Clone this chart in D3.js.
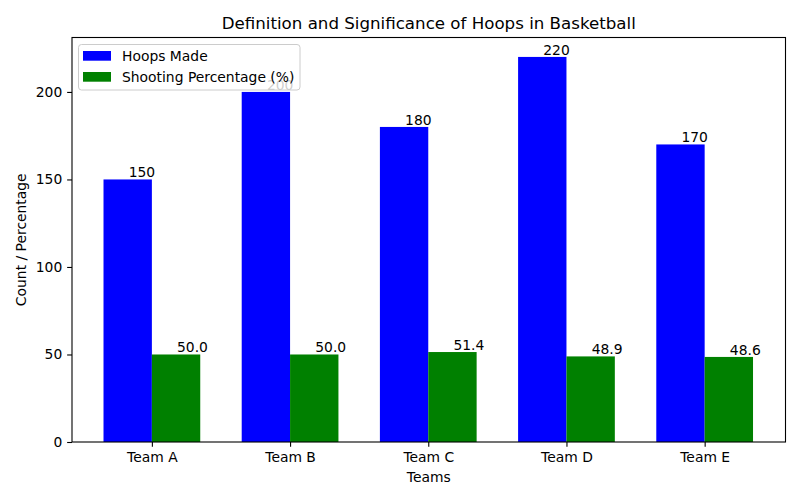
<!DOCTYPE html>
<html><head><meta charset="utf-8">
<script src="https://cdn.jsdelivr.net/npm/d3@7"></script>
<style>body{margin:0;background:#fff;} svg{display:block;font-family:"DejaVu Sans",sans-serif;}</style>
</head><body>
<svg id="c" width="800" height="500"></svg>
<script>
const teams = ["Team A","Team B","Team C","Team D","Team E"];
const hoopsMade = [150,200,180,220,170];
const shootingPct = [50.0,50.0,51.4,48.9,48.6];
const pctLabels = ["50.0","50.0","51.4","48.9","48.6"];
const yTicks = [0,50,100,150,200];
const seriesNames = ["Hoops Made","Shooting Percentage (%)"];
const colors = ["#0000ff","#008000"];

const svg = d3.select("#c");
const L=72, R=785.5, T=37.5, B=442;
const w = 0.35;
const x = d3.scaleLinear().domain([-0.578, 4.585]).range([L,R]);
const y = d3.scaleLinear().domain([0, 231.1]).range([B,T]);

svg.append("text").attr("x",(L+R)/2).attr("y",T-9).attr("text-anchor","middle")
  .attr("font-size","16.67px").text("Definition and Significance of Hoops in Basketball");

const g = svg.append("g");
teams.forEach((t,i)=>{
  g.append("rect").attr("x",x(i-w)).attr("width",x(w)-x(0)).attr("y",y(hoopsMade[i])).attr("height",y(0)-y(hoopsMade[i])).attr("fill",colors[0]);
  g.append("rect").attr("x",x(i)).attr("width",x(w)-x(0)).attr("y",y(shootingPct[i])).attr("height",y(0)-y(shootingPct[i])).attr("fill",colors[1]);
});
teams.forEach((t,i)=>{
  g.append("text").attr("x",x(i-w/2)+1).attr("y",y(hoopsMade[i])-2).attr("font-size","13.89px").text(hoopsMade[i]);
  g.append("text").attr("x",x(i+w/2)+1).attr("y",y(shootingPct[i])-2).attr("font-size","13.89px").text(pctLabels[i]);
});

// axes
const xa = svg.append("g").attr("transform",`translate(0,${B})`)
  .call(d3.axisBottom(x).tickValues(d3.range(teams.length)).tickFormat(i=>teams[i]).tickSizeOuter(0).tickSize(4.86).tickPadding(4.9));
xa.select(".domain").remove();
xa.selectAll("text").attr("font-size","13.89px").attr("font-family","DejaVu Sans").attr("fill","#000");
const ya = svg.append("g").attr("transform",`translate(${L},0)`)
  .call(d3.axisLeft(y).tickValues(yTicks).tickSizeOuter(0).tickSize(4.86).tickPadding(4.9));
ya.select(".domain").remove();
ya.selectAll("text").attr("font-size","13.89px").attr("font-family","DejaVu Sans").attr("fill","#000");
svg.selectAll(".tick line").attr("stroke","#000").attr("stroke-width",1.1);

svg.append("rect").attr("x",L).attr("y",T).attr("width",R-L).attr("height",B-T)
  .attr("fill","none").attr("stroke","#000").attr("stroke-width",1.1);

svg.append("text").attr("x",(L+R)/2).attr("y",482).attr("text-anchor","middle").attr("font-size","13.89px").text("Teams");
svg.append("text").attr("transform",`translate(21,${(T+B)/2}) rotate(-90)`).attr("text-anchor","middle")
  .attr("dy","0.35em").attr("font-size","13.89px").text("Count / Percentage");

// legend
const lg = svg.append("g");
lg.append("rect").attr("x",78.5).attr("y",44.5).attr("width",221.5).attr("height",45.5).attr("rx",3)
  .attr("fill","#fff").attr("fill-opacity",0.8).attr("stroke","#cccccc").attr("stroke-width",1);
seriesNames.forEach((s,i)=>{
  lg.append("rect").attr("x",83).attr("y",51+i*21).attr("width",28).attr("height",9.7).attr("fill",colors[i]);
  lg.append("text").attr("x",122).attr("y",56+i*21).attr("dy","0.35em").attr("font-size","13.89px").text(s);
});
</script>
</body></html>
